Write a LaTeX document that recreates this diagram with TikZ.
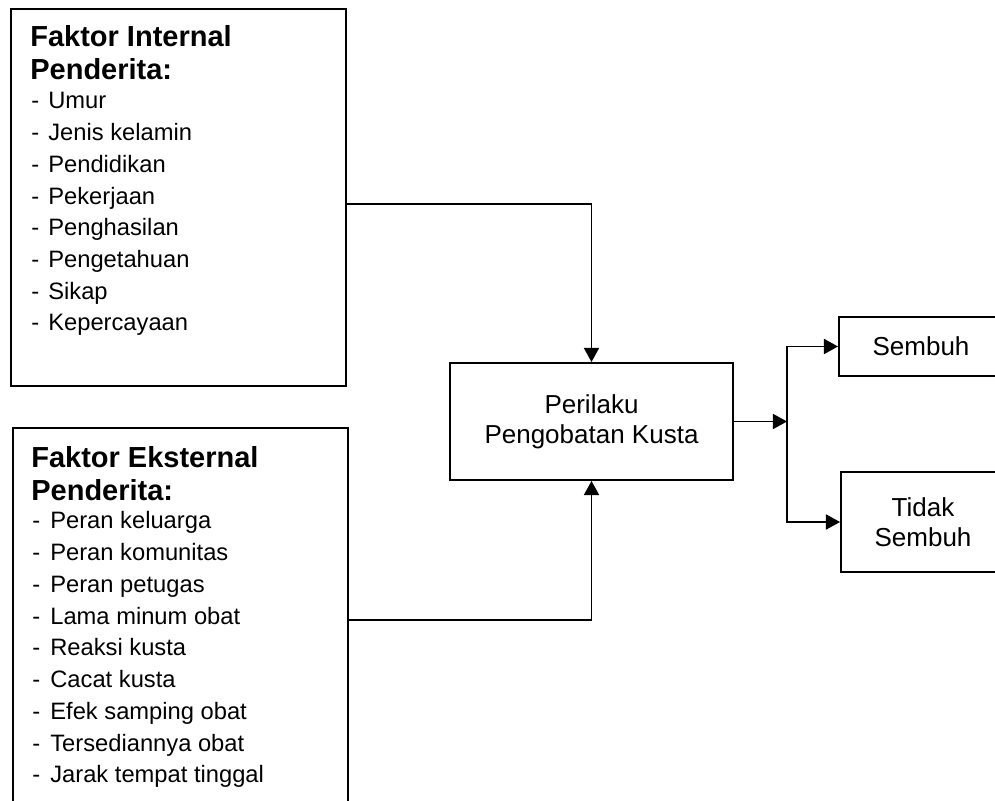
\documentclass[tikz,border=0pt]{standalone}
\usepackage{fontspec}
\setmainfont{Liberation Sans}
\usetikzlibrary{arrows.meta}

\tikzset{
	box/.style={draw, line width=1.1pt, inner sep=0pt},
	head/.style={anchor=north west, inner sep=0pt, align=left, font=\fontsize{16.5}{18.8}\selectfont\bfseries},
	item/.style={anchor=base west, inner sep=0pt, font=\fontsize{13.5}{18}\selectfont},
	hasil/.style={box, align=center, font=\fontsize{14.8}{17.2}\selectfont},
	link/.style={line width=1.1pt, -{Triangle[length=8pt, width=8.5pt]}},
}

\begin{document}
\begin{tikzpicture}
	\useasboundingbox (0,0) rectangle (19.9,16);
	\node[box, minimum width=6.7cm, minimum height=7.54cm, anchor=north west] (intern) at (0.2,15.84){};
	\node[box, minimum width=6.7cm, minimum height=7.68cm, anchor=north west] (ekstern) at (0.24,7.46){};
	\node[hasil, minimum width=5.66cm, minimum height=2.34cm] (perilaku) at (11.83,7.57){Perilaku\\Pengobatan Kusta};
	\node[hasil, minimum width=3.28cm, minimum height=1.18cm] (sembuh) at (18.42,9.07){Sembuh};
	\node[hasil, minimum width=3.28cm, minimum height=2cm] (tidak) at (18.46,5.56){Tidak\\Sembuh};

	\node[head] (judulin) at (0.6,15.5){Faktor Internal\\Penderita:};
	\foreach \txt [count=\i] in {Umur, Jenis kelamin, Pendidikan, Pekerjaan, Penghasilan, Pengetahuan, Sikap, Kepercayaan}
		\node[item] (in\i) at (0.62,{13.82-(\i-1)*0.634}){\makebox[0.34cm][l]{-}\txt};

	\node[head] (judulex) at (0.62,7.08){Faktor Eksternal\\Penderita:};
	\foreach \txt [count=\i] in {Peran keluarga, Peran komunitas, Peran petugas, Lama minum obat, Reaksi kusta, Cacat kusta, Efek samping obat, Tersediannya obat, Jarak tempat tinggal}
		\node[item] (ex\i) at (0.64,{5.42-(\i-1)*0.635}){\makebox[0.36cm][l]{-}\txt};

	\coordinate (cabang) at (15.74,7.57);
	\draw[link] ([yshift=-0.13cm]intern.east) -| (perilaku.north);
	\draw[link] (ekstern.east) -| (perilaku.south);
	\draw[link] (perilaku.east) -- (cabang);
	\draw[link] (cabang) |- (sembuh.west);
	\draw[link] (cabang) |- (tidak.west);
\end{tikzpicture}
\end{document}
